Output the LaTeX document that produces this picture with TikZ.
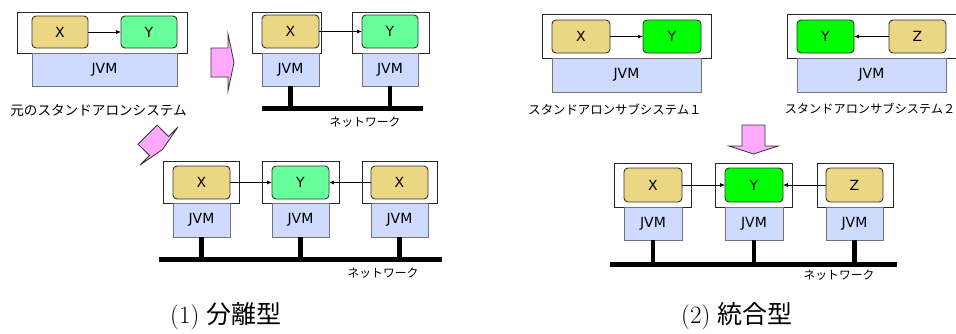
\documentclass[tikz,border=0pt]{standalone}
\usepackage{fontspec}
\usetikzlibrary{arrows.meta}
\newfontfamily\jp{Noto Sans CJK JP}
\newfontfamily\lab{DejaVu Sans}
\definecolor{tan}{RGB}{235,214,132}
\definecolor{lgreen}{RGB}{102,255,153}
\definecolor{bgreen}{RGB}{0,255,0}
\definecolor{jvmblue}{RGB}{206,219,255}
\definecolor{pinkarrow}{RGB}{255,170,255}
\tikzset{
  outerbox/.style={draw=black!85, line width=0.9pt, fill=white, inner sep=0pt, outer sep=0pt},
  compbox/.style={draw=black!80, line width=0.9pt, rounded corners=4pt, inner sep=0pt, outer sep=0pt, font=\lab\fontsize{14}{16}\selectfont},
  tanbox/.style={compbox, fill=tan},
  lgbox/.style={compbox, fill=lgreen},
  bgbox/.style={compbox, fill=bgreen},
  jvmbox/.style={draw=black!55, line width=0.9pt, fill=jvmblue, inner sep=0pt, outer sep=0pt, font=\lab\fontsize{14}{16}\selectfont},
  link/.style={draw=black, line width=0.7pt, -{Latex[length=5pt,width=4pt]}},
  netline/.style={draw=black, line width=5pt},
  stem/.style={draw=black, line width=4.5pt},
  bigarrow/.style={draw=black!80, line width=0.8pt, fill=pinkarrow, line join=miter},
  jptext/.style={inner sep=0pt, font=\jp},
  title/.style={inner sep=0pt, anchor=west, font=\fontsize{25}{28}\selectfont}
}
\begin{document}
\begin{tikzpicture}[x=1pt,y=-1pt]
\useasboundingbox (0,0) rectangle (956,333);

% ===== Diagram A: original standalone system =====
\node[outerbox, minimum width=170pt, minimum height=41pt] (oA) at (102,32.5) {};
\node[jvmbox, minimum width=145pt, minimum height=33pt] (jA) at (104.5,69.5) {JVM};
\node[tanbox, minimum width=56pt, minimum height=32pt] (xA) at (60,32) {X};
\node[lgbox, minimum width=56pt, minimum height=32pt] (yA) at (149,32) {Y};
\draw[link] (xA) -- (yA);
\node[jptext, font=\jp\fontsize{13.6}{15}\selectfont] (lA) at (98.5,110) {元のスタンドアロンシステム};

% right pink arrow
\draw[bigarrow] (211,48) -- (228,48) -- (228,34) -- (234,62.5) -- (228,91) -- (228,77) -- (211,77) -- cycle;

% ===== Diagram B: two nodes =====
\node[outerbox, minimum width=69pt, minimum height=41pt] (oB1) at (286.5,32.5) {};
\node[outerbox, minimum width=77pt, minimum height=41pt] (oB2) at (390.5,32.5) {};
\node[jvmbox, minimum width=57pt, minimum height=33pt] (jB1) at (290.5,69.5) {JVM};
\node[jvmbox, minimum width=56pt, minimum height=33pt] (jB2) at (390,69.5) {JVM};
\node[tanbox, minimum width=57pt, minimum height=33pt] (xB) at (290.5,31.5) {X};
\node[lgbox, minimum width=56pt, minimum height=33pt] (yB) at (390,31.5) {Y};
\draw[link] (xB) -- (yB);
\coordinate (nB1) at (262,108);
\coordinate (nB2) at (423,108);
\draw[stem] (jB1.south) -- (jB1.south |- nB1);
\draw[stem] (jB2.south) -- (jB2.south |- nB1);
\draw[netline] (nB1) -- (nB2);
\node[jptext, font=\jp\fontsize{11.8}{13}\selectfont] (lB) at (365,122) {ネットワーク};

% diagonal pink arrow
\draw[bigarrow] (138.1,144.2) -- (157.2,125.1) -- (168.5,136.5) -- (178.1,126.9) -- (162.5,149.5) -- (139.9,165.1) -- (149.5,155.5) -- cycle;

% ===== Diagram C: separated =====
\node[outerbox, minimum width=76pt, minimum height=42pt] (oC1) at (201,182) {};
\node[outerbox, minimum width=77pt, minimum height=42pt] (oC2) at (300.5,182) {};
\node[outerbox, minimum width=75pt, minimum height=42pt] (oC3) at (399.5,182) {};
\node[jvmbox, minimum width=57pt, minimum height=34pt] (jC1) at (201.5,220) {JVM};
\node[jvmbox, minimum width=57pt, minimum height=34pt] (jC2) at (300.5,220) {JVM};
\node[jvmbox, minimum width=57pt, minimum height=34pt] (jC3) at (399.5,220) {JVM};
\node[tanbox, minimum width=57pt, minimum height=33pt] (xC1) at (201.5,182.5) {X};
\node[lgbox, minimum width=57pt, minimum height=33pt] (yC) at (300.5,182.5) {Y};
\node[tanbox, minimum width=57pt, minimum height=33pt] (xC2) at (399.5,182.5) {X};
\draw[link] (xC1) -- (yC);
\draw[link] (xC2) -- (yC);
\coordinate (nC1) at (159,259);
\coordinate (nC2) at (442,259);
\draw[stem] (jC1.south) -- (jC1.south |- nC1);
\draw[stem] (jC2.south) -- (jC2.south |- nC1);
\draw[stem] (jC3.south) -- (jC3.south |- nC1);
\draw[netline] (nC1) -- (nC2);
\node[jptext, font=\jp\fontsize{11.8}{13}\selectfont] (lC) at (383,273) {ネットワーク};

\node[title] (t1) at (170,316) {(1) {\jp 分離型}};

% ===== Diagram D: two standalone subsystems =====
\node[outerbox, minimum width=169pt, minimum height=44pt] (oD1) at (626.5,36) {};
\node[jvmbox, minimum width=149pt, minimum height=34pt] (jD1) at (626.5,75) {JVM};
\node[tanbox, minimum width=58pt, minimum height=33pt] (xD) at (581,36.5) {X};
\node[bgbox, minimum width=58pt, minimum height=33pt] (yD1) at (672,36.5) {Y};
\draw[link] (xD) -- (yD1);
\node[jptext, font=\jp\fontsize{12.4}{14}\selectfont] (lD1) at (615,109) {スタンドアロンサブシステム１};

\node[outerbox, minimum width=175pt, minimum height=44pt] (oD2) at (874.5,36) {};
\node[jvmbox, minimum width=149pt, minimum height=34pt] (jD2) at (871.5,75) {JVM};
\node[bgbox, minimum width=57pt, minimum height=33pt] (yD2) at (825.5,36.5) {Y};
\node[tanbox, minimum width=57pt, minimum height=33pt] (zD) at (917.5,36.5) {Z};
\draw[link] (zD) -- (yD2);
\node[jptext, font=\jp\fontsize{12.2}{14}\selectfont] (lD2) at (870,109) {スタンドアロンサブシステム２};

% down pink arrow
\draw[bigarrow] (742,125) -- (765,125) -- (765,146) -- (778,146) -- (753.5,154) -- (729,146) -- (742,146) -- cycle;

% ===== Diagram E: integrated =====
\node[outerbox, minimum width=77pt, minimum height=44pt] (oE1) at (652.5,185) {};
\node[outerbox, minimum width=77pt, minimum height=44pt] (oE2) at (753.5,185) {};
\node[outerbox, minimum width=76pt, minimum height=44pt] (oE3) at (855,185) {};
\node[jvmbox, minimum width=58pt, minimum height=33pt] (jE1) at (653,223.5) {JVM};
\node[jvmbox, minimum width=58pt, minimum height=33pt] (jE2) at (754,223.5) {JVM};
\node[jvmbox, minimum width=57pt, minimum height=33pt] (jE3) at (854.5,223.5) {JVM};
\node[tanbox, minimum width=58pt, minimum height=34pt] (xE) at (653,185) {X};
\node[bgbox, minimum width=58pt, minimum height=34pt] (yE) at (754,185) {Y};
\node[tanbox, minimum width=57pt, minimum height=34pt] (zE) at (854.5,185) {Z};
\draw[link] (xE) -- (yE);
\draw[link] (zE) -- (yE);
\coordinate (nE1) at (610,264);
\coordinate (nE2) at (897,264);
\draw[stem] (jE1.south) -- (jE1.south |- nE1);
\draw[stem] (jE2.south) -- (jE2.south |- nE1);
\draw[stem] (jE3.south) -- (jE3.south |- nE1);
\draw[netline] (nE1) -- (nE2);
\node[jptext, font=\jp\fontsize{11.8}{13}\selectfont] (lE) at (839,275) {ネットワーク};

\node[title] (t2) at (681,316) {(2) {\jp 統合型}};
\end{tikzpicture}
\end{document}
